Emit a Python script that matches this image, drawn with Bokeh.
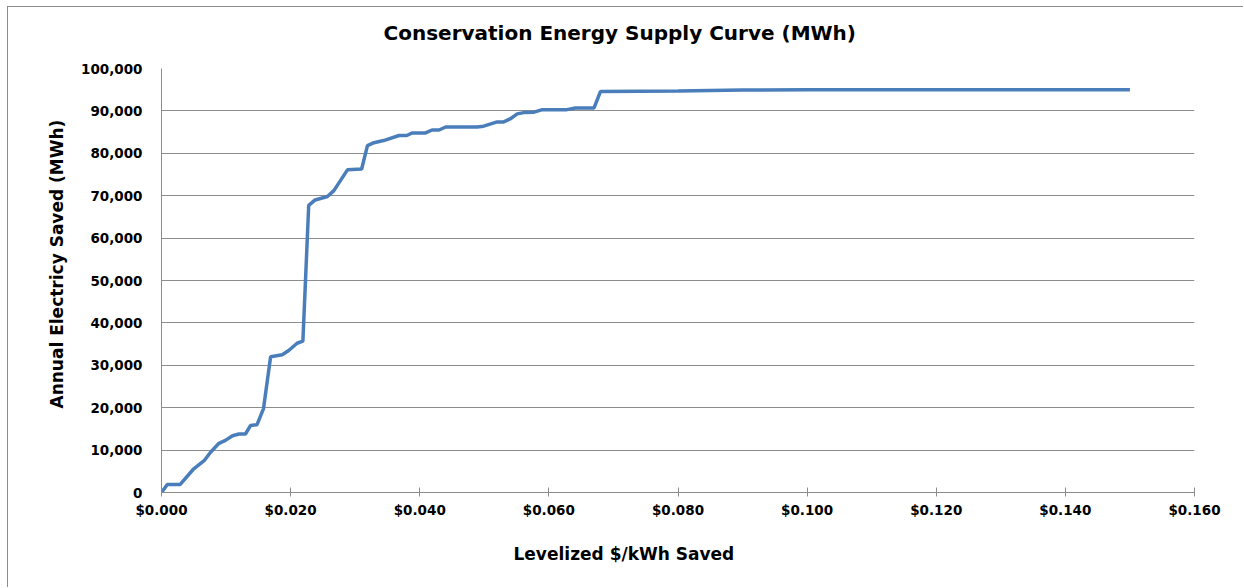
from bokeh.plotting import figure
from bokeh.models import Title, NumeralTickFormatter, FixedTicker, Range1d
from bokeh.embed import file_html
from bokeh.resources import INLINE

title_text = "Conservation Energy Supply Curve (MWh)"
x_title = "Levelized $/kWh Saved"
y_title = "Annual Electricy Saved (MWh)"

cost = [0.0, 0.0009, 0.0029, 0.005, 0.0066, 0.0076, 0.0089, 0.0099, 0.011, 0.012, 0.013,
        0.0138, 0.0148, 0.0158, 0.0169, 0.0187, 0.0197, 0.021, 0.0219, 0.0228, 0.0238,
        0.0257, 0.0267, 0.0288, 0.031, 0.0319, 0.0329, 0.0344, 0.0368, 0.038, 0.0388,
        0.0409, 0.0419, 0.043, 0.044, 0.0489, 0.0499, 0.052, 0.053, 0.054, 0.0551,
        0.0561, 0.0577, 0.059, 0.0628, 0.0641, 0.067, 0.068, 0.080, 0.090, 0.100, 0.150]
saved = [0, 1900, 1900, 5600, 7500, 9500, 11600, 12300, 13400, 13800, 13800,
         15800, 16000, 19800, 32000, 32500, 33500, 35200, 35700, 67700, 69000,
         69800, 71200, 76100, 76300, 81800, 82500, 83000, 84200, 84200, 84800,
         84800, 85500, 85500, 86200, 86200, 86400, 87400, 87400, 88100, 89300,
         89600, 89700, 90300, 90300, 90700, 90700, 94600, 94700, 94900, 95000, 95000]

x_ticks = [0.0, 0.02, 0.04, 0.06, 0.08, 0.10, 0.12, 0.14, 0.16]
y_ticks = list(range(0, 100001, 10000))

FONT = "DejaVu Sans"

p = figure(width=1236, height=581, output_backend="svg", toolbar_location=None,
           x_range=Range1d(0, 0.16), y_range=Range1d(0, 100000),
           min_border_left=153, min_border_right=50, min_border_top=61, min_border_bottom=96,
           styles={"border-top": "1px solid #8c8c8c", "border-left": "1px solid #8c8c8c",
                   "margin-left": "7px", "margin-top": "6px"})
p.title = None
p.outline_line_color = None
p.background_fill_color = "white"

p.line(cost, saved, line_color="#4a7ebb", line_width=3.5)

p.xgrid.grid_line_color = None
p.ygrid.grid_line_color = "#8c8c8c"
p.ygrid.grid_line_width = 1

p.xaxis.ticker = FixedTicker(ticks=x_ticks)
p.yaxis.ticker = FixedTicker(ticks=y_ticks)
p.xaxis.formatter = NumeralTickFormatter(format="$0.000")
p.yaxis.formatter = NumeralTickFormatter(format="0,0")
for ax in (p.xaxis[0], p.yaxis[0]):
    ax.axis_line_color = "#8c8c8c"
    ax.major_label_text_font = FONT
    ax.major_label_text_font_style = "bold"
    ax.major_label_text_font_size = "13.5px"
    ax.major_label_text_color = "black"
    ax.minor_tick_line_color = None
p.xaxis.major_tick_line_color = "#8c8c8c"
p.xaxis.major_tick_in = 5
p.xaxis.major_tick_out = 4
p.xaxis.major_label_standoff = 5
p.yaxis.major_tick_line_color = None
p.yaxis.major_label_standoff = 13

common = dict(text_font=FONT, text_font_style="bold", text_color="black", align="left")
# spacer panel nearest the frame, then the real title above it
p.add_layout(Title(text=" ", text_font_size="1px", standoff=19), "above")
p.add_layout(Title(text=title_text, text_font_size="20px", offset=222, standoff=4, **common), "above")
p.add_layout(Title(text=x_title, text_font_size="17px", offset=352, standoff=42, **common), "below")
p.add_layout(Title(text=y_title, text_font_size="17px", offset=84, standoff=24, **common), "left")

open("out.html", "w").write(file_html(p, INLINE))
